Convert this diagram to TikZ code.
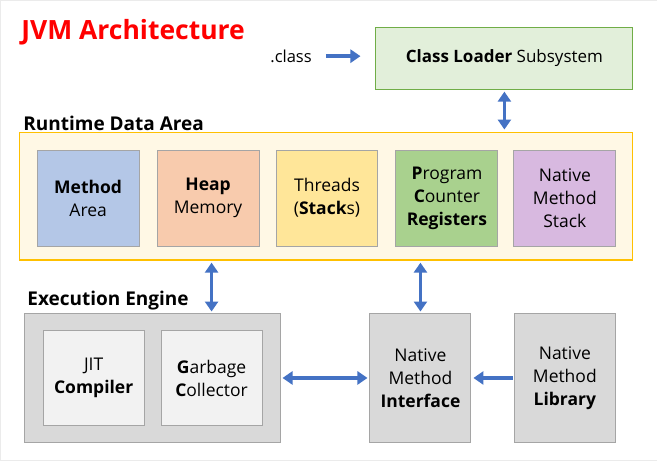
\documentclass[tikz,border=0pt]{standalone}
\usepackage{fontspec}
\setmainfont{Open Sans}
\usepackage{tikz}
\usetikzlibrary{positioning,arrows.meta}
\definecolor{arrowblue}{HTML}{4472C4}
\definecolor{loaderfill}{HTML}{E2EFDA}
\definecolor{loaderline}{HTML}{70AD47}
\definecolor{areafill}{HTML}{FFF8E5}
\definecolor{arealine}{HTML}{FFC000}
\definecolor{boxline}{HTML}{A5A5A5}
\tikzset{
  flowarrow/.style={-{Triangle[length=10pt,width=13pt]}, line width=3.6pt, arrowblue},
  bothway/.style={{Triangle[length=10pt,width=13pt]}-{Triangle[length=10pt,width=13pt]}, line width=3.6pt, arrowblue},
  areabox/.style={draw=boxline, line width=1pt, minimum width=102pt, minimum height=96pt, align=center, font=\fontsize{17.5}{23}\selectfont},
  greybox/.style={draw=boxline, line width=1pt, fill=black!15, align=center, font=\fontsize{17.5}{23}\selectfont},
  lightbox/.style={draw=boxline, line width=1pt, fill=black!5, minimum width=101pt, minimum height=95pt, align=center, font=\fontsize{17.5}{23}\selectfont},
  heading/.style={anchor=west, inner sep=0pt, font=\fontsize{19}{22}\selectfont\bfseries}
}
\begin{document}
\begin{tikzpicture}[x=1pt, y=-1pt]
  \useasboundingbox[draw=black!8, fill=white] (0,0) rectangle (657,460);
  \node[text=red, inner sep=0pt, font=\fontsize{26.5}{30}\selectfont\bfseries] (title) at (133,32) {JVM Architecture};
  % class loader
  \node[draw=loaderline, line width=1pt, fill=loaderfill, minimum width=257pt, minimum height=62pt, font=\fontsize{17}{20}\selectfont] (loader) at (504.5,58) {\textbf{Class Loader} Subsystem};
  \node[inner sep=0pt, font=\fontsize{16.5}{20}\selectfont] (dotclass) at (291,56) {.class};
  \draw[flowarrow, shorten <=14pt, shorten >=15pt] (dotclass.east) -- (loader.west |- dotclass.east);
  % runtime data area
  \node[heading] (rdalabel) at (23,123) {Runtime Data Area};
  \node[draw=arealine, line width=1.2pt, fill=areafill, minimum width=614pt, minimum height=128pt] (rda) at (326,196) {};
  \node[areabox, fill={rgb,255:red,180;green,199;blue,231}] (method) at (88,198) {\textbf{Method}\\Area};
  \node[areabox, fill={rgb,255:red,248;green,203;blue,173}] (heap) at (208,198) {\textbf{Heap}\\Memory};
  \node[areabox, fill={rgb,255:red,255;green,230;blue,153}] (threads) at (327,198) {Threads\\(\textbf{Stack}s)};
  \node[areabox, fill={rgb,255:red,169;green,209;blue,142}] (pcr) at (447,198) {\textbf{P}rogram\\\textbf{C}ounter\\\textbf{Registers}};
  \node[areabox, fill={rgb,255:red,216;green,185;blue,224}] (nms) at (565,198) {Native\\Method\\Stack};
  \draw[bothway, shorten <=2pt, shorten >=2pt] (loader.south) -- (loader.south |- rda.north);
  % execution engine
  \node[heading] (eelabel) at (27,301) {Execution Engine};
  \node[greybox, minimum width=256pt, minimum height=130pt] (ee) at (152,378) {};
  \node[lightbox] (jit) at (93.5,378) {JIT\\\textbf{Compiler}};
  \node[lightbox] (gc) at (211.5,378) {\textbf{G}arbage\\\textbf{C}ollector};
  \node[greybox, minimum width=101pt, minimum height=130pt] (nmi) at (420.5,378) {Native\\Method\\\textbf{Interface}};
  \node[greybox, minimum width=101pt, minimum height=130pt] (nml) at (565,378) {Native\\Method\\\textbf{Library}};
  \draw[bothway, shorten <=2pt, shorten >=1pt] (rda.south -| gc) -- (ee.north -| gc);
  \draw[bothway, shorten <=2pt, shorten >=1pt] (rda.south -| nmi) -- (nmi.north);
  \draw[bothway, shorten <=2pt, shorten >=2pt] (ee.east) -- (nmi.west);
  \draw[flowarrow, shorten <=1pt, shorten >=2pt] (nml.west) -- (nmi.east);
\end{tikzpicture}
\end{document}
